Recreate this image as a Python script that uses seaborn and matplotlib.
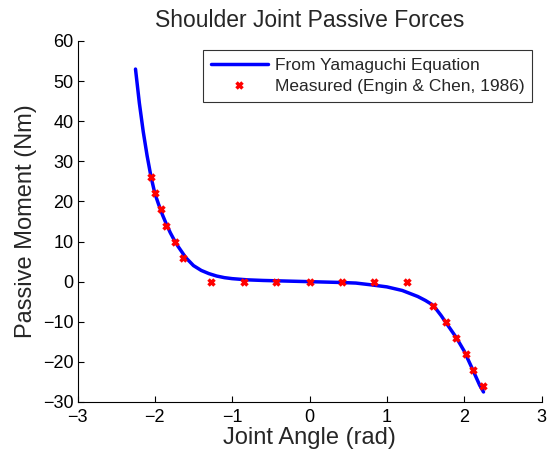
import seaborn as sns
import pandas as pd
from matplotlib import pyplot as plt

# curve
curve_x = [-2.25, -2.20, -2.15, -2.10, -2.05, -2.00, -1.95, -1.90, -1.85, -1.80,
           -1.75, -1.70, -1.60, -1.50, -1.40, -1.30, -1.20, -1.10, -1.00, -0.80,
           -0.60, -0.40, -0.20, 0.00, 0.20, 0.40, 0.60, 0.80, 1.00, 1.20,
           1.40, 1.50, 1.60, 1.70, 1.80, 1.90, 2.00, 2.10, 2.20, 2.25]
curve_y = [53.0, 44.5, 37.4, 31.4, 26.2, 22.0, 19.2, 16.6, 14.3, 12.2,
           10.4, 8.8, 6.0, 4.0, 2.8, 2.0, 1.4, 1.0, 0.75, 0.45,
           0.3, 0.2, 0.1, 0.0, -0.1, -0.2, -0.35, -0.8, -1.3, -2.2,
           -3.7, -4.7, -5.9, -8.4, -11.2, -14.0, -17.3, -21.5, -25.8, -27.5]

# measured points (Engin & Chen, 1986)
meas_x = [-2.05, -2.00, -1.92, -1.85, -1.74, -1.63, -1.28, -0.85, -0.43, 0.00,
          0.42, 0.83, 1.26, 1.60, 1.76, 1.90, 2.02, 2.11, 2.24]
meas_y = [26, 22, 18, 14, 10, 6, 0, 0, 0, 0,
          0, 0, 0, -6, -10, -14, -18, -22, -26]

curve = pd.DataFrame({'angle': curve_x, 'moment': curve_y})
meas = pd.DataFrame({'angle': meas_x, 'moment': meas_y})

sns.set_style('ticks')
plt.rcParams['font.family'] = ['Liberation Sans', 'DejaVu Sans']
plt.rcParams['xtick.direction'] = 'in'
plt.rcParams['ytick.direction'] = 'in'

fig = plt.figure(figsize=(5.52, 4.55), dpi=100)
ax = fig.add_axes([0.1404, 0.1165, 0.8406, 0.7934])

sns.lineplot(data=curve, x='angle', y='moment', ax=ax, color='#0000ff', lw=2.5,
             label='From Yamaguchi Equation', sort=False, zorder=2)
ax.plot(meas['angle'], meas['moment'], ls='none', marker='x', color='#ff0000',
        ms=5, mew=2.5, label='Measured (Engin & Chen, 1986)', zorder=3)

ax.set_xlim(-3, 3)
ax.set_ylim(-30, 60)
ax.set_xticks(range(-3, 4))
ax.set_yticks(range(-30, 61, 10))
ax.tick_params(labelsize=13, length=4, width=0.8, colors='black', pad=3)
ax.tick_params(axis='x', pad=5)
for s in ['left', 'bottom']:
    ax.spines[s].set_color('black')
    ax.spines[s].set_linewidth(0.8)
sns.despine(ax=ax)

ax.set_xlabel('Joint Angle (rad)', fontsize=17, labelpad=1)
ax.set_ylabel('Passive Moment (Nm)', fontsize=17, labelpad=4)
ax.set_title('Shoulder Joint Passive Forces', fontsize=16.5, pad=10)

leg = ax.legend(loc='upper right', fontsize=12.5, frameon=True, fancybox=False,
                edgecolor='black', borderpad=0.45, handlelength=3.3,
                handletextpad=0.4, labelspacing=0.35,
                bbox_to_anchor=(0.999, 0.999))
leg.get_frame().set_linewidth(0.8)

fig.savefig('out.png', dpi=100)
